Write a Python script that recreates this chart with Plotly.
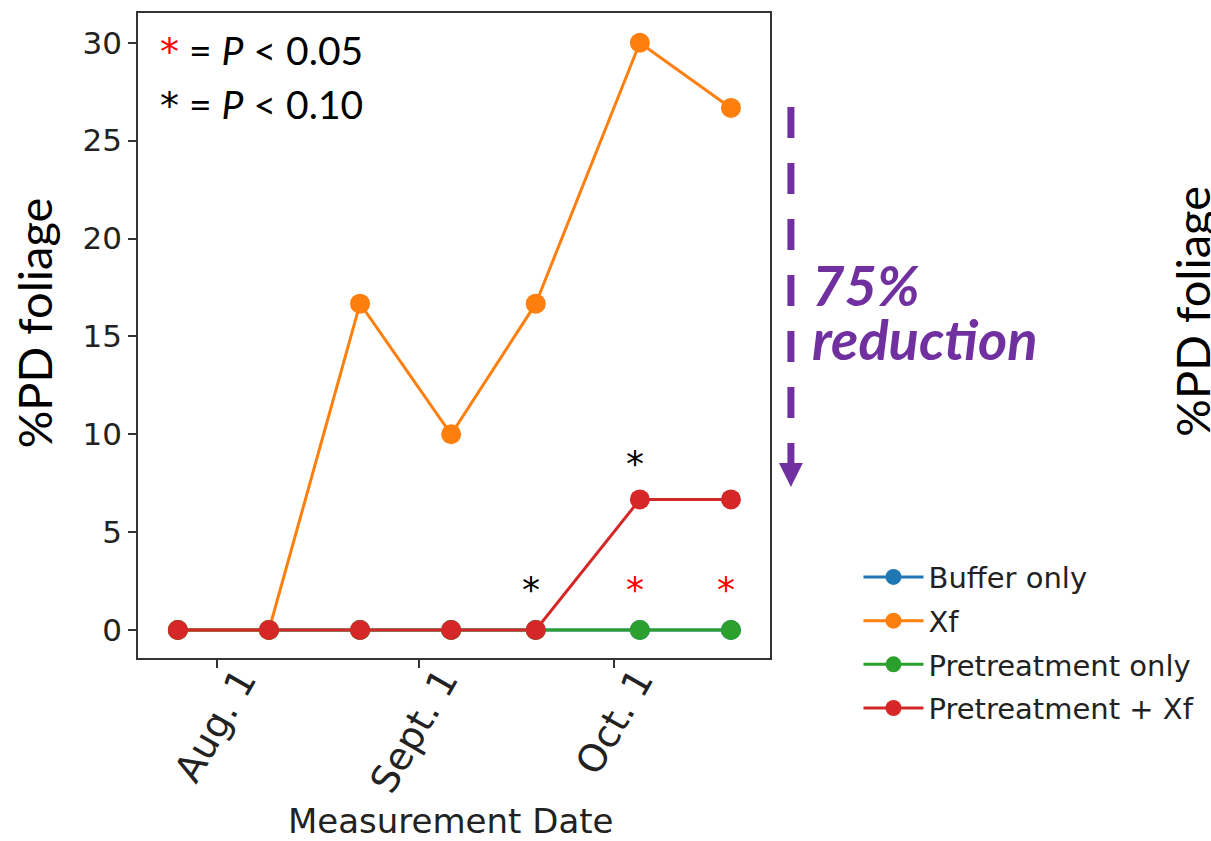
import plotly.graph_objects as go

# ---- data ----
dates = ["2019-07-26", "2019-08-09", "2019-08-23", "2019-09-06",
         "2019-09-19", "2019-10-05", "2019-10-19"]
buffer_only = [0, 0, 0, 0, 0, 0, 0]
xf = [0, 0, 16.67, 10, 16.67, 30, 26.67]
pretreat_only = [0, 0, 0, 0, 0, 0, 0]
pretreat_xf = [0, 0, 0, 0, 0, 6.67, 6.67]

series_names = ["Buffer only", "Xf", "Pretreatment only", "Pretreatment + Xf"]
series_vals = [buffer_only, xf, pretreat_only, pretreat_xf]
series_colors = ["#1f77b4", "#ff7f0e", "#2ca02c", "#d62728"]

tick_dates = ["2019-08-01", "2019-09-01", "2019-10-01"]
tick_labels = ["Aug. 1", "Sept. 1", "Oct. 1"]
y_ticks = [0, 5, 10, 15, 20, 25, 30]

PURPLE = "#7030A0"
CAL = "Lato, 'Open Sans', sans-serif"
DJ = "DejaVu Sans, sans-serif"

fig = go.Figure()
for name, vals, col in zip(series_names, series_vals, series_colors):
    fig.add_trace(go.Scatter(
        x=dates, y=vals, name=name, mode="lines+markers",
        line=dict(color=col, width=3),
        marker=dict(color=col, size=20),
        legendgroup=name,
    ))

annotations = []
# significance stars attached to data points
stars = [(4, 0, "black"), (5, 0, "red"), (6, 0, "red"), (5, 6.67, "black")]
for idx, val, col in stars:
    annotations.append(dict(
        x=dates[idx], y=val, xref="x", yref="y", text="*", showarrow=False,
        xshift=-5, yshift=41 if val == 0 else 36,
        font=dict(family=DJ, size=36, color=col),
        xanchor="center", yanchor="middle"))

# p-value key
annotations.append(dict(
    x=0.0315, y=0.9411, xref="paper", yref="paper", showarrow=False,
    xanchor="left", yanchor="middle",
    text="<span style='color:red;font-family:DejaVu Sans;font-size:38px'>*</span> = <i>P</i> &lt; 0.05",
    font=dict(family=CAL, size=39, color="black")))
annotations.append(dict(
    x=0.0315, y=0.8589, xref="paper", yref="paper", showarrow=False,
    xanchor="left", yanchor="middle",
    text="<span style='font-family:DejaVu Sans;font-size:38px'>*</span> = <i>P</i> &lt; 0.10",
    font=dict(family=CAL, size=39, color="black")))

# reduction text
annotations.append(dict(
    x=1.0631, y=0.5783, xref="paper", yref="paper", showarrow=False,
    xanchor="left", yanchor="middle", text="<b><i>75%</i></b>",
    font=dict(family=CAL, size=56, color=PURPLE)))
annotations.append(dict(
    x=1.0631, y=0.4946, xref="paper", yref="paper", showarrow=False,
    xanchor="left", yanchor="middle", text="<b><i>reduction</i></b>",
    font=dict(family=CAL, size=56, color=PURPLE)))

# axis titles
annotations.append(dict(
    x=-0.164, y=0.5194, xref="paper", yref="paper", showarrow=False,
    xanchor="center", yanchor="middle", textangle=-90, text="%PD foliage",
    font=dict(family=CAL, size=47, color="black")))
annotations.append(dict(
    x=1.6672, y=0.538, xref="paper", yref="paper", showarrow=False,
    xanchor="center", yanchor="middle", textangle=-90, text="%PD foliage",
    font=dict(family=CAL, size=47, color="black")))
annotations.append(dict(
    x=0.4945, y=-0.2527, xref="paper", yref="paper", showarrow=False,
    xanchor="center", yanchor="middle", text="Measurement Date",
    font=dict(family=DJ, size=34, color="#222")))

shapes = [
    dict(type="line", xref="paper", yref="paper",
         x0=1.0331, x1=1.0331, y0=0.8543, y1=0.3023,
         line=dict(color=PURPLE, width=7, dash="31px,25px")),
    dict(type="path", xref="paper", yref="paper",
         path="M 1.0142,0.3023 L 1.0520,0.3023 L 1.0331,0.2651 Z",
         fillcolor=PURPLE, line=dict(color=PURPLE, width=0)),
]

fig.update_layout(
    width=1211, height=841, autosize=False,
    margin=dict(l=138, r=439, t=13, b=183),
    paper_bgcolor="white", plot_bgcolor="white",
    showlegend=True,
    legend=dict(x=1.14, y=0.165, xanchor="left", yanchor="top",
                font=dict(family=DJ, size=29, color="#222"),
                traceorder="grouped", tracegroupgap=3, itemwidth=60,
                bgcolor="rgba(0,0,0,0)"),
    xaxis=dict(type="date", range=["2019-07-19 21:00", "2019-10-25"],
               tickvals=tick_dates, ticktext=tick_labels, tickangle=-60,
               ticks="outside", ticklen=8, tickwidth=1.5, tickcolor="#333",
               showline=True, linecolor="#333", linewidth=1.5, mirror=True,
               showgrid=False, zeroline=False, ticklabelshift=24,
               ticklabelstandoff=-25,
               tickfont=dict(family=DJ, size=38, color="#222")),
    yaxis=dict(range=[-1.43, 31.52], tickvals=y_ticks,
               ticks="outside", ticklen=8, tickwidth=1.5, tickcolor="#333",
               showline=True, linecolor="#333", linewidth=1.5, mirror=True,
               showgrid=False, zeroline=False,
               tickfont=dict(family=DJ, size=31, color="#222")),
    annotations=annotations, shapes=shapes,
)

fig.write_html("out.html", config={"responsive": False, "displayModeBar": False},
               post_script="document.body.style.margin='0';document.body.style.overflow='hidden';")
